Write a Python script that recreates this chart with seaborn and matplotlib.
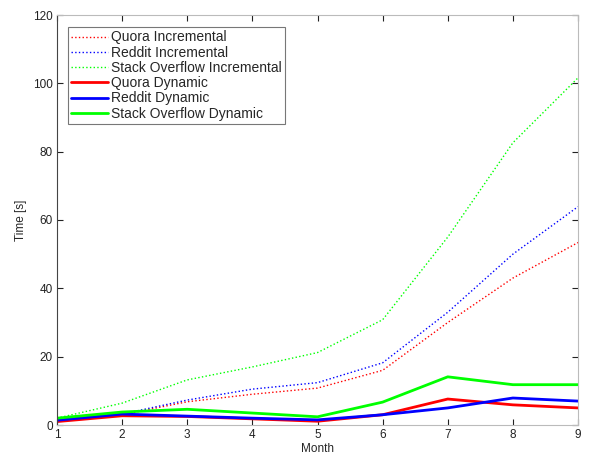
import pandas as pd
import matplotlib
matplotlib.use("Agg")
import matplotlib.pyplot as plt
import seaborn as sns

# values
months = [1, 2, 3, 4, 5, 6, 7, 8, 9]
quora_inc = [1.5, 3.0, 6.8, 9.0, 10.8, 16.0, 30.0, 43.0, 53.4]
reddit_inc = [1.5, 3.2, 7.3, 10.5, 12.4, 18.2, 33.0, 50.0, 63.9]
so_inc = [2.0, 6.4, 13.2, 17.0, 21.2, 30.8, 55.0, 82.6, 101.6]
quora_dyn = [1.0, 2.7, 2.5, 1.8, 1.1, 3.0, 7.6, 5.9, 5.0]
reddit_dyn = [1.4, 3.2, 2.6, 2.0, 1.5, 3.0, 5.0, 7.9, 7.0]
so_dyn = [2.0, 3.8, 4.6, 3.5, 2.4, 6.7, 14.1, 11.8, 11.8]

series = [
    ("Quora Incremental", quora_inc, "#ff0000", ":", 1.0),
    ("Reddit Incremental", reddit_inc, "#0000ff", ":", 1.0),
    ("Stack Overflow Incremental", so_inc, "#00ff00", ":", 1.0),
    ("Quora Dynamic", quora_dyn, "#ff0000", "-", 2.0),
    ("Reddit Dynamic", reddit_dyn, "#0000ff", "-", 2.0),
    ("Stack Overflow Dynamic", so_dyn, "#00ff00", "-", 2.0),
]

sns.set_style("ticks")
plt.rcParams['font.family'] = ['Liberation Sans', 'DejaVu Sans']

fig = plt.figure(figsize=(5.93, 4.59), dpi=100)
ax = fig.add_axes([57 / 593, 34 / 459, 521 / 593, 410 / 459])

for name, vals, col, ls, lw in series:
    df = pd.DataFrame({"Month": months, "Time": vals})
    sns.lineplot(data=df, x="Month", y="Time", ax=ax, color=col,
                 linestyle=ls, linewidth=lw, label=name)

ax.set_xlim(1, 9)
ax.set_ylim(0, 120)
ax.set_xticks(months)
ax.set_yticks(range(0, 121, 20))
ax.tick_params(direction="in", top=True, right=True, labelsize=8.5, length=4,
               width=0.8, colors="#222222", pad=3)
for s in ["top", "right", "bottom"]:
    ax.spines[s].set_color("#bbbbbb")
ax.spines["left"].set_color("#444444")
ax.set_xlabel("Month", fontsize=8.5, labelpad=1)
ax.set_ylabel("Time [s]", fontsize=8.5, labelpad=4)

leg = ax.legend(loc="upper left", bbox_to_anchor=(0.021, 0.971), fontsize=10,
                frameon=True, fancybox=False, borderpad=0.25, labelspacing=0.09,
                handlelength=2.6, handletextpad=0.25, borderaxespad=0)
leg.get_frame().set_edgecolor("#555555")
leg.get_frame().set_linewidth(0.8)

fig.savefig("out.png", dpi=100)
